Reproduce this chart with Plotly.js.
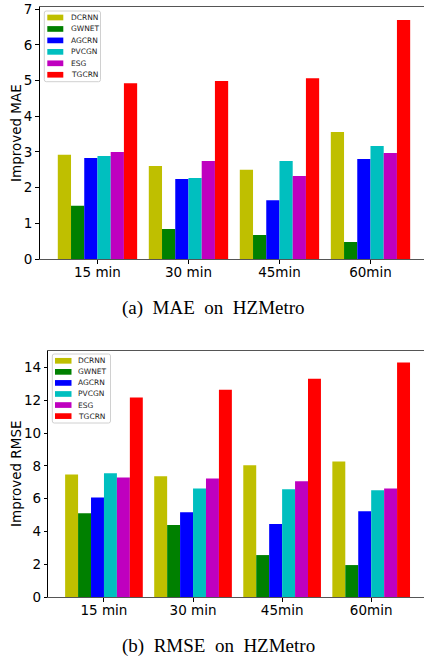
<!DOCTYPE html>
<html>
<head>
<meta charset="utf-8">
<script src="https://cdn.plot.ly/plotly-3.0.1.min.js"></script>
<style>html,body{margin:0;padding:0;background:#fff;}#chart{width:424px;height:660px;}</style>
</head>
<body>
<div id="chart"></div>
<script>
// ---- data ----
const categories = ['15 min', '30 min', '45min', '60min'];
const seriesNames = ['DCRNN', 'GWNET', 'AGCRN', 'PVCGN', 'ESG', 'TGCRN'];
const seriesColors = ['#bfbf00', '#008000', '#0000ff', '#00bfbf', '#bf00bf', '#ff0000'];

// Improved MAE on HZMetro
const maeDCRNN = [2.92, 2.61, 2.50, 3.56];
const maeGWNET = [1.49, 0.84, 0.67, 0.48];
const maeAGCRN = [2.83, 2.24, 1.65, 2.80];
const maePVCGN = [2.89, 2.27, 2.75, 3.17];
const maeESG   = [3.00, 2.75, 2.33, 2.97];
const maeTGCRN = [4.93, 4.99, 5.07, 6.70];

// Improved RMSE on HZMetro
const rmseDCRNN = [7.48, 7.37, 8.04, 8.28];
const rmseGWNET = [5.12, 4.39, 2.56, 1.95];
const rmseAGCRN = [6.08, 5.18, 4.45, 5.24];
const rmsePVCGN = [7.55, 6.63, 6.58, 6.52];
const rmseESG   = [7.30, 7.24, 7.06, 6.63];
const rmseTGCRN = [12.18, 12.66, 13.33, 14.32];

const maeSeries = [maeDCRNN, maeGWNET, maeAGCRN, maePVCGN, maeESG, maeTGCRN];
const rmseSeries = [rmseDCRNN, rmseGWNET, rmseAGCRN, rmsePVCGN, rmseESG, rmseTGCRN];

// ---- figure ----
const W = 424, H = 660;
const px = v => v / W;
const py = v => 1 - v / H;

const traces = [];
seriesNames.forEach((name, i) => {
  traces.push({type: 'bar', name: name, x: categories, y: maeSeries[i], xaxis: 'x', yaxis: 'y',
    marker: {color: seriesColors[i], line: {width: 0}}, showlegend: false, hoverinfo: 'none'});
});
seriesNames.forEach((name, i) => {
  traces.push({type: 'bar', name: name, x: categories, y: rmseSeries[i], xaxis: 'x2', yaxis: 'y2',
    marker: {color: seriesColors[i], line: {width: 0}}, showlegend: false, hoverinfo: 'none'});
});

const tickFont = {family: 'DejaVu Sans', size: 13.5, color: '#000'};

function xAxis(domain, range, anchor) {
  return {domain: domain, range: range, anchor: anchor, type: 'category',
    showline: true, linecolor: '#555', linewidth: 1.2, mirror: true,
    ticks: 'outside', ticklen: 3.5, tickwidth: 1, tickcolor: '#000', ticklabelstandoff: -3,
    tickfont: tickFont, showgrid: false, zeroline: false, fixedrange: true};
}
function yAxis(domain, range, dtick, anchor) {
  return {domain: domain, range: range, dtick: dtick, tick0: 0, anchor: anchor,
    showline: true, linecolor: '#000', linewidth: 1,
    ticks: 'outside', ticklen: 3.5, tickwidth: 1, tickcolor: '#000',
    tickfont: tickFont, showgrid: false, zeroline: false, fixedrange: true};
}

// manual legends (matplotlib style)
const shapes = [];
const annotations = [];
function addLegend(box, patchX0, patchX1, textX, row0, rowStep, patchH) {
  const [bx0, bx1, by0, by1] = box;
  const r = 2;
  const path = `M ${px(bx0 + r)} ${py(by0)} L ${px(bx1 - r)} ${py(by0)} Q ${px(bx1)} ${py(by0)} ${px(bx1)} ${py(by0 + r)} ` +
    `L ${px(bx1)} ${py(by1 - r)} Q ${px(bx1)} ${py(by1)} ${px(bx1 - r)} ${py(by1)} L ${px(bx0 + r)} ${py(by1)} ` +
    `Q ${px(bx0)} ${py(by1)} ${px(bx0)} ${py(by1 - r)} L ${px(bx0)} ${py(by0 + r)} Q ${px(bx0)} ${py(by0)} ${px(bx0 + r)} ${py(by0)} Z`;
  shapes.push({type: 'path', xref: 'paper', yref: 'paper', path: path,
    fillcolor: 'rgba(255,255,255,0.85)', line: {color: '#d0d0d0', width: 1}});
  seriesNames.forEach((name, i) => {
    const cy = row0 + i * rowStep;
    shapes.push({type: 'rect', xref: 'paper', yref: 'paper',
      x0: px(patchX0), x1: px(patchX1), y0: py(cy - patchH / 2), y1: py(cy + patchH / 2),
      fillcolor: seriesColors[i], line: {width: 0}});
    annotations.push({xref: 'paper', yref: 'paper', x: px(textX), y: py(cy), xanchor: 'left', yanchor: 'middle',
      text: name, showarrow: false, font: {family: 'DejaVu Sans', size: 7.5, color: '#222'}});
  });
}
addLegend([44.3, 100.5, 11, 81.7], 47.3, 63.3, 68.5, 17.5, 11.45, 5.7);
addLegend([52.3, 110.5, 354, 423], 55, 71.5, 75.5, 360.8, 11.06, 5.7);

// y-axis titles
annotations.push({xref: 'paper', yref: 'paper', x: px(16), y: py(133), xanchor: 'center', yanchor: 'middle',
  textangle: -90, text: 'Improved MAE', showarrow: false,
  font: {family: 'DejaVu Sans', size: 13.5, color: '#000'}});
annotations.push({xref: 'paper', yref: 'paper', x: px(16), y: py(474), xanchor: 'center', yanchor: 'middle',
  textangle: -90, text: 'Improved RMSE', showarrow: false,
  font: {family: 'DejaVu Sans', size: 13.5, color: '#000'}});

// captions
annotations.push({xref: 'paper', yref: 'paper', x: px(213.5), y: py(308), xanchor: 'center', yanchor: 'middle',
  text: '(a)\u00a0 MAE\u00a0 on\u00a0 HZMetro', showarrow: false,
  font: {family: 'Liberation Serif', size: 19, color: '#000'}});
annotations.push({xref: 'paper', yref: 'paper', x: px(218), y: py(646), xanchor: 'center', yanchor: 'middle',
  text: '(b)\u00a0 RMSE\u00a0 on\u00a0 HZMetro', showarrow: false,
  font: {family: 'Liberation Serif', size: 19, color: '#000'}});

const layout = {
  width: W, height: H,
  margin: {l: 0, r: 0, t: 0, b: 0, pad: 0},
  paper_bgcolor: '#fff', plot_bgcolor: '#fff',
  barmode: 'group', bargap: 0.128, bargroupgap: 0,
  showlegend: false,
  xaxis: xAxis([px(39.5), 1], [-0.637, 3.588], 'y'),
  yaxis: yAxis([py(259), py(7.3)], [0, 7.056], 1, 'x'),
  xaxis2: xAxis([px(48.3), 1], [-0.625, 3.593], 'y2'),
  yaxis2: yAxis([py(597), py(351)], [0, 15.02], 2, 'x2'),
  shapes: shapes,
  annotations: annotations,
  font: {family: 'DejaVu Sans', color: '#000'}
};

Plotly.newPlot('chart', traces, layout, {displayModeBar: false, staticPlot: true});
</script>
</body>
</html>
